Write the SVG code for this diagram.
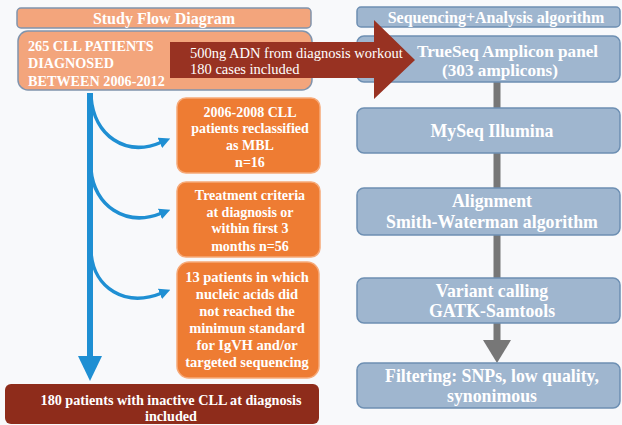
<svg xmlns="http://www.w3.org/2000/svg" width="622" height="425" viewBox="0 0 622 425">
<defs>
<style>
.t{font-family:"Liberation Serif","Times New Roman",serif;font-weight:bold;fill:#fff}
.sal{fill:#f3a57c;stroke:#8094ad;stroke-width:1.5}
.org{fill:#ee7c33;stroke:#f6a978;stroke-width:1.5}
.blu{fill:#9fb6cf;stroke:#6d8fb3;stroke-width:1.5}
.gl{stroke:#777;stroke-width:7;fill:none}
.bc{stroke:#1f8fd3;fill:none;stroke-width:3.5}
</style>
<marker id="bh" viewBox="0 0 10 10" refX="2" refY="5" markerWidth="3.2" markerHeight="3.2" orient="auto" markerUnits="strokeWidth">
<path d="M0,0 L10,5 L0,10 Z" fill="#1f8fd3"/>
</marker>
</defs>
<rect width="622" height="425" fill="#f8f9fb"/>

<g id="connectors">
<line x1="90" y1="93" x2="90" y2="360" stroke="#1f8fd3" stroke-width="6"/>
<polygon points="78,356 102,356 90,381" fill="#1f8fd3"/>
<path class="bc" d="M91,97 C94,135 125,158 162,142" marker-end="url(#bh)"/>
<path class="bc" d="M91,170 C94,205 125,228 162,213" marker-end="url(#bh)"/>
<path class="bc" d="M91,253 C94,288 125,308 162,293" marker-end="url(#bh)"/>
<line class="gl" x1="497" y1="82" x2="497" y2="108"/>
<line class="gl" x1="497" y1="153" x2="497" y2="188"/>
<line class="gl" x1="497" y1="235" x2="497" y2="278"/>
<line class="gl" x1="497" y1="323" x2="497" y2="342"/>
<polygon points="483,340 511,340 497,363" fill="#777"/>
</g>

<g id="title-left">
<rect class="sal" x="17" y="8" width="294" height="20" rx="4"/>
<text class="t" x="164" y="23.5" font-size="16" text-anchor="middle">Study Flow Diagram</text>
</g>
<g id="patients265">
<rect class="sal" x="18" y="31" width="294" height="59" rx="10"/>
<text class="t" font-size="14.2" fill="#fdf1ea"><tspan x="28" y="51">265 CLL PATIENTS</tspan><tspan x="28" y="68">DIAGNOSED</tspan><tspan x="28" y="86">BETWEEN 2006-2012</tspan></text>
</g>

<g id="title-right">
<rect class="blu" x="357" y="7" width="263" height="20" rx="4"/>
<text class="t" x="496" y="22.5" font-size="16" text-anchor="middle">Sequencing+Analysis algorithm</text>
</g>
<g id="trueseq">
<rect class="blu" x="357" y="36" width="263" height="46" rx="7"/>
<text class="t" x="417" y="57" font-size="17.2">TrueSeq Amplicon panel</text>
<text class="t" x="442" y="76" font-size="17.2">(303 amplicons)</text>
</g>

<g id="workout-arrow">
<polygon points="170,42 374,42 374,20 415,60 374,99 374,78 170,78" fill="#983222"/>
<text x="190" y="58" font-family="Liberation Serif,serif" font-size="14.5" fill="#fff">500ng ADN from diagnosis workout</text>
<text x="190" y="74" font-family="Liberation Serif,serif" font-size="14.5" fill="#fff">180 cases included</text>
</g>

<g id="mbl">
<rect class="org" x="177" y="98" width="143" height="75" rx="9"/>
<text class="t" font-size="14" text-anchor="middle"><tspan x="250" y="117">2006-2008 CLL</tspan><tspan x="250" y="133">patients reclassified</tspan><tspan x="250" y="150">as MBL</tspan><tspan x="250" y="167">n=16</tspan></text>
</g>
<g id="treatment">
<rect class="org" x="177" y="182" width="143" height="75" rx="9"/>
<text class="t" font-size="14" text-anchor="middle"><tspan x="250" y="200">Treatment criteria</tspan><tspan x="250" y="217">at diagnosis or</tspan><tspan x="250" y="233">within first 3</tspan><tspan x="250" y="251">months n=56</tspan></text>
</g>
<g id="nucleic">
<rect class="org" x="177" y="262" width="142" height="116" rx="12"/>
<text class="t" font-size="14.5" text-anchor="middle"><tspan x="247" y="282">13 patients in which</tspan><tspan x="247" y="299">nucleic acids did</tspan><tspan x="247" y="316">not reached the</tspan><tspan x="247" y="333">minimun standard</tspan><tspan x="247" y="350">for IgVH and/or</tspan><tspan x="247" y="367">targeted sequencing</tspan></text>
</g>
<g id="included">
<rect x="5" y="384" width="314" height="40" rx="6" fill="#8e2c1b"/>
<text class="t" font-size="14.2" text-anchor="middle"><tspan x="171" y="405">180 patients with inactive CLL at diagnosis</tspan><tspan x="171" y="421">included</tspan></text>
</g>

<g id="myseq">
<rect class="blu" x="357" y="108" width="263" height="45" rx="7"/>
<text class="t" x="492" y="137" font-size="17.8" text-anchor="middle">MySeq Illumina</text>
</g>
<g id="alignment">
<rect class="blu" x="357" y="188" width="263" height="47" rx="7"/>
<text class="t" font-size="17.8" text-anchor="middle"><tspan x="492" y="207">Alignment</tspan><tspan x="492" y="228">Smith-Waterman algorithm</tspan></text>
</g>
<g id="variant">
<rect class="blu" x="357" y="278" width="263" height="45" rx="7"/>
<text class="t" font-size="17.8" text-anchor="middle"><tspan x="492" y="297">Variant calling</tspan><tspan x="492" y="317">GATK-Samtools</tspan></text>
</g>
<g id="filtering">
<rect class="blu" x="357" y="363" width="263" height="45" rx="7"/>
<text class="t" font-size="17.8" text-anchor="middle"><tspan x="492" y="382">Filtering: SNPs, low quality,</tspan><tspan x="492" y="402">synonimous</tspan></text>
</g>
</svg>
